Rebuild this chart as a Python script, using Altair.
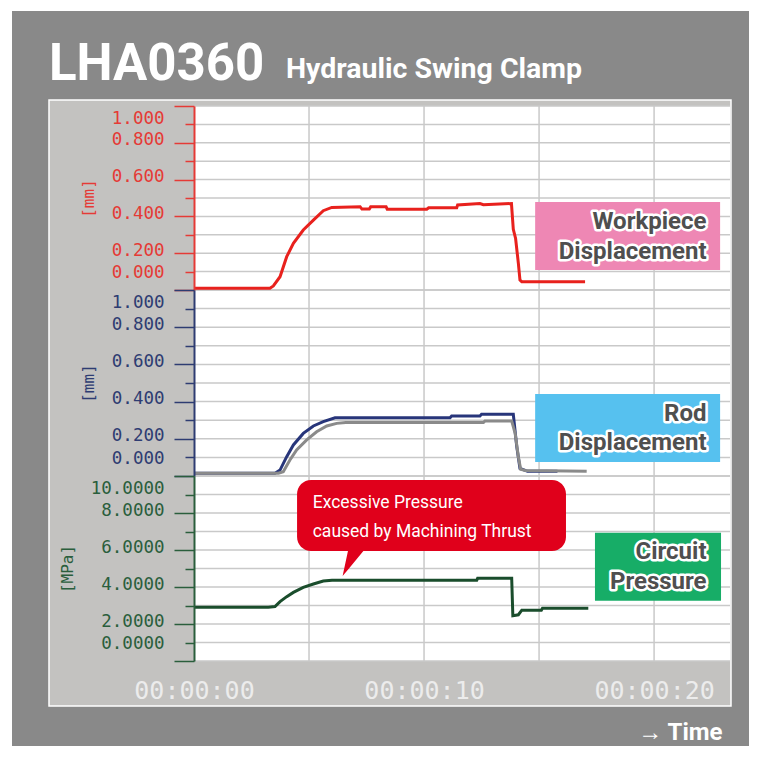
import altair as alt
import pandas as pd

# ---------------- data ----------------
time_ticks = [0, 10, 20]
vgrid_t = [5, 10, 15, 20]
mm_ticks = [0.0, 0.1, 0.2, 0.3, 0.4, 0.5, 0.6, 0.7, 0.8, 0.9, 1.0]
mpa_ticks = [0, 1, 2, 3, 4, 5, 6, 7, 8, 9, 10]

# Workpiece displacement [mm]
wp_t = [0, 3.30, 3.45, 3.74, 4.03, 4.32, 4.75, 5.19, 5.62, 5.99, 7.22, 7.30, 7.62, 7.68, 8.35,
        8.40, 10.12, 10.20, 11.42, 11.46, 12.43, 12.58, 13.80, 13.88, 13.98, 14.10, 14.17, 14.25, 17.00]
wp_v = [0.01, 0.01, 0.022, 0.072, 0.181, 0.254, 0.326, 0.38, 0.431, 0.449, 0.453, 0.44, 0.44, 0.452, 0.452,
        0.439, 0.439, 0.447, 0.447, 0.462, 0.47, 0.464, 0.47, 0.33, 0.28, 0.145, 0.054, 0.045, 0.045]

# Rod displacement [mm] (navy)
rod_t = [0, 3.52, 3.74, 4.03, 4.32, 4.75, 5.19, 5.62, 6.13, 11.13, 11.20, 12.43, 12.50, 13.88, 14.03, 14.17, 14.50, 15.80]
rod_v = [0.015, 0.015, 0.032, 0.104, 0.167, 0.229, 0.269, 0.292, 0.313, 0.313, 0.323, 0.323, 0.332, 0.332, 0.158, 0.041, 0.025, 0.025]

# Rod displacement [mm] (grey)
rg_t = [0, 3.67, 3.88, 4.17, 4.46, 4.90, 5.33, 5.77, 6.20, 6.60, 12.58, 12.65, 13.81, 13.96, 14.10, 14.20, 14.40, 17.07]
rg_v = [0.015, 0.015, 0.023, 0.086, 0.14, 0.194, 0.238, 0.269, 0.283, 0.287, 0.287, 0.296, 0.296, 0.229, 0.104, 0.036, 0.03, 0.025]

# Circuit pressure [MPa]
pr_t = [0, 3.23, 3.52, 3.74, 4.03, 4.32, 4.75, 5.19, 5.62, 6.00, 12.29, 12.33, 13.81, 13.86, 14.10, 14.25, 15.10, 15.15, 17.14]
pr_v = [2.9, 2.9, 2.94, 3.21, 3.48, 3.71, 3.98, 4.16, 4.32, 4.36, 4.36, 4.47, 4.47, 2.45, 2.5, 2.75, 2.75, 2.85, 2.85]

# annotation boxes (time, value ranges in each panel's units)
wp_box = {"t": [14.83], "t2": [22.87], "v": [0.478], "v2": [0.109]}
wp_lab = {"t": [22.28, 22.28], "v": [0.371, 0.208], "label": ["Workpiece", "Displacement"]}
rod_box = {"t": [14.83], "t2": [22.87], "v": [0.441], "v2": [0.075]}
rod_lab = {"t": [22.28, 22.28], "v": [0.333, 0.176], "label": ["Rod", "Displacement"]}
pr_box = {"t": [17.43], "t2": [22.91], "v": [6.935], "v2": [3.26]}
pr_lab = {"t": [22.28, 22.28], "v": [5.91, 4.29], "label": ["Circuit", "Pressure"]}
call_box = {"t": [4.48], "t2": [16.17], "v": [9.78], "v2": [5.95]}
call_ptr = {"t": [6.46, 6.70, 7.39], "v": [4.59, 4.95, 5.98], "v2": [4.59, 5.98, 5.98]}
call_lab = {"t": [5.16, 5.16], "v": [8.52, 6.99], "label": ["Excessive Pressure", "caused by Machining Thrust"]}

title_main = ["LHA0360"]
title_sub = ["Hydraulic Swing Clamp"]

# ---------------- styling ----------------
W, H = 536, 555
T_MAX = 23.3
RED, NAVY, GREY, GREEN = "#e8211d", "#27357a", "#8a8a8a", "#1a4d2c"
RED_AX, NAVY_AX, GREEN_AX = "#e53a36", "#2e3c72", "#2a5e3c"

xaxis = alt.Axis(values=time_ticks,
                 labelExpr="'00:00:' + (datum.value < 10 ? '0' : '') + datum.value",
                 grid=False, ticks=False, domain=False, labelFlush=False, labelOverlap=False,
                 labelFont="DejaVu Sans Mono", labelFontSize=25, labelColor="#ececec",
                 labelPadding=29, labelBaseline="middle",
                 title="→ Time", titleFont="Roboto", titleFontSize=24, titleFontWeight="bold",
                 titleColor="white", titleAnchor="end", titleAlign="right", titleX=528, titleY=71,
                 titleBaseline="middle", zindex=1)
xscale = alt.Scale(domain=[0, T_MAX], nice=False, zero=False)


def X(field="t"):
    return alt.X(f"{field}:Q", scale=xscale, axis=xaxis)


def yaxis(title, color, values, fmt, major):
    return alt.Axis(values=values, orient="left",
                    labelExpr=f"({major}) ? format(datum.value, '{fmt}') : ''",
                    grid=False, domainColor=color, domainWidth=2, tickColor=color, tickWidth=1.5,
                    tickSize={"condition": {"test": major, "value": 20}, "value": 9},
                    labelColor=color, labelFont="DejaVu Sans Mono", labelFontSize=17.5,
                    labelPadding=10, labelFlush=True, labelFlushOffset=-6, labelOffset=-3,
                    labelOverlap=False, title=title, titleColor=color, titleFont="DejaVu Sans Mono",
                    titleFontSize=16, titleFontWeight="normal", titlePadding=15, zindex=1)


panels = {
    "top": dict(domain=[0, 1], rng=[184, 0],
                axis=yaxis("[mm]", RED_AX, mm_ticks, ".3f", "round(datum.value * 10) % 2 == 0")),
    "mid": dict(domain=[0, 1], rng=[370, 184],
                axis=yaxis("[mm]", NAVY_AX, mm_ticks, ".3f", "round(datum.value * 10) % 2 == 0")),
    "bot": dict(domain=[0, 10], rng=[555, 370],
                axis=yaxis("[MPa]", GREEN_AX, mpa_ticks, ".4f", "round(datum.value) % 2 == 0")),
}


def Y(panel, field="v", with_axis=False):
    p = panels[panel]
    return alt.Y(f"{field}:Q", scale=alt.Scale(domain=p["domain"], range=p["rng"], nice=False, zero=False),
                 axis=p["axis"] if with_axis else None)


def Y2(field="v2"):
    return alt.Y2(f"{field}:Q")


one = pd.DataFrame({"k": [0]})

layers = []
# background frames
layers.append(alt.Chart(one).mark_rect(fill="#898989").encode(
    x=alt.value(-182), x2=alt.value(620), y=alt.value(-95), y2=alt.value(700)))
layers.append(alt.Chart(one).mark_rect(fill="#c3c2c0", stroke="white", strokeWidth=1.5).encode(
    x=alt.value(-145), x2=alt.value(537), y=alt.value(-6), y2=alt.value(600)))
layers.append(alt.Chart(one).mark_rect(fill="white").encode(
    x=alt.value(0), x2=alt.value(W), y=alt.value(0), y2=alt.value(H)))

# vertical grid
layers.append(alt.Chart(pd.DataFrame({"t": vgrid_t})).mark_rule(color="#c9c9c9", strokeWidth=1.5).encode(x=X()))

# horizontal grids + axes
for name, ticks in (("top", mm_ticks), ("mid", mm_ticks), ("bot", mpa_ticks)):
    layers.append(alt.Chart(pd.DataFrame({"v": ticks})).mark_rule(color="#c9c9c9", strokeWidth=1.5).encode(
        y=Y(name, with_axis=True)))


def line(ts, vs, panel, color):
    df = pd.DataFrame({"t": ts, "v": vs, "o": list(range(len(ts)))})
    return alt.Chart(df).mark_line(color=color, strokeWidth=3, strokeJoin="miter").encode(
        x=X(), y=Y(panel), order="o:Q")


layers.append(line(wp_t, wp_v, "top", RED))
layers.append(line(rod_t, rod_v, "mid", NAVY))
layers.append(line(rg_t, rg_v, "mid", GREY))
layers.append(line(pr_t, pr_v, "bot", GREEN))


def box(d, panel, color, radius=0):
    return alt.Chart(pd.DataFrame(d)).mark_rect(fill=color, cornerRadius=radius).encode(
        x=X(), x2=alt.X2("t2:Q"), y=Y(panel), y2=Y2())


def halo_text(d, panel):
    df = pd.DataFrame(d)
    base = alt.Chart(df).encode(x=X(), y=Y(panel), text="label:N")
    halo = base.mark_text(align="right", baseline="middle", font="Roboto", fontSize=24, fontWeight="bold",
                          fill="white", stroke="white", strokeWidth=5, strokeJoin="round")
    txt = base.mark_text(align="right", baseline="middle", font="Roboto", fontSize=24, fontWeight="bold",
                         fill="#4f4f4f")
    return [halo, txt]


layers.append(box(wp_box, "top", "#ee87b4"))
layers += halo_text(wp_lab, "top")
layers.append(box(rod_box, "mid", "#56c1ef"))
layers += halo_text(rod_lab, "mid")
layers.append(box(pr_box, "bot", "#17ad67"))
layers += halo_text(pr_lab, "bot")

# callout
layers.append(box(call_box, "bot", "#e0001b", radius=14))
layers.append(alt.Chart(pd.DataFrame(call_ptr)).mark_area(color="#e0001b", orient="vertical").encode(
    x=X(), y=Y("bot"), y2=Y2()))
layers.append(alt.Chart(pd.DataFrame(call_lab)).mark_text(
    align="left", baseline="middle", font="Roboto", fontSize=17.5, color="white").encode(
    x=X(), y=Y("bot"), text="label:N"))

# titles
layers.append(alt.Chart(pd.DataFrame({"label": title_main})).mark_text(
    align="left", baseline="alphabetic", font="Roboto", fontSize=51, fontWeight="bold", color="white").encode(
    x=alt.value(-145), y=alt.value(-26), text="label:N"))
layers.append(alt.Chart(pd.DataFrame({"label": title_sub})).mark_text(
    align="left", baseline="alphabetic", font="Roboto", fontSize=28.5, fontWeight="bold", color="white").encode(
    x=alt.value(92), y=alt.value(-28), text="label:N"))

chart = alt.layer(*layers).resolve_scale(y="independent").properties(
    width=W, height=H,
    autosize=alt.AutoSizeParams(type="none"),
    padding={"left": 186, "top": 98, "right": 19, "bottom": 85},
).configure_view(stroke=None)

chart.save("out.html", embed_options={"renderer": "svg", "actions": False})
